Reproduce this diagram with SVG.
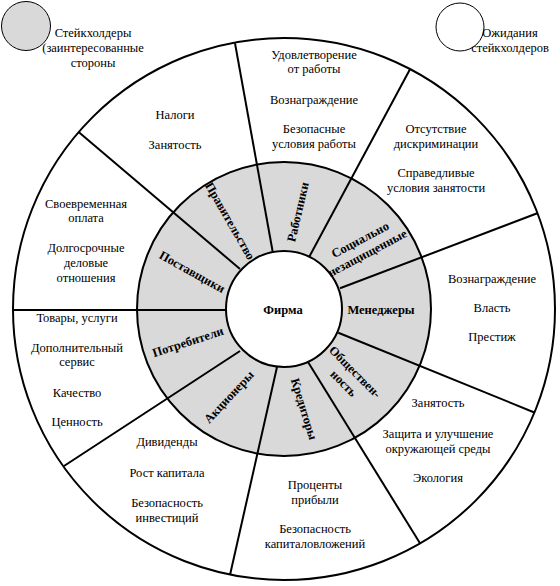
<svg xmlns="http://www.w3.org/2000/svg" width="560" height="586" viewBox="0 0 560 586">
<style>
.t{font-family:'Liberation Serif','Times New Roman','DejaVu Serif',serif;font-size:12.5px;fill:#000;text-anchor:middle}
.b{font-family:'Liberation Serif','Times New Roman','DejaVu Serif',serif;font-size:12.5px;font-weight:bold;fill:#000;text-anchor:middle}
.ln{stroke:#000;stroke-width:2;fill:none}
.c{stroke:#000;stroke-width:2}
</style>
<rect width="560" height="586" fill="#fff"/>
<g id="legend">
<circle cx="26" cy="26" r="24.5" fill="#d9d9d9" stroke="#000" stroke-width="1"/>
<text class="t" x="93" y="37">Стейкхолдеры</text>
<text class="t" x="93" y="52">(заинтересованные</text>
<text class="t" x="93" y="67">стороны</text>
<circle cx="460" cy="27" r="24" fill="#fff" stroke="#000" stroke-width="1"/>
<text class="t" x="510" y="37">Ожидания</text>
<text class="t" x="510" y="52">стейкхолдеров</text>
</g>
<g id="rings">
<circle class="c" cx="284" cy="309" r="271" fill="#fff"/>
<circle cx="284" cy="309" r="147" fill="#d9d9d9"/>
</g>
<g id="connectors">
<line class="ln" x1="235" y1="43.3" x2="272.7" y2="251.7"/>
<line class="ln" x1="410" y1="69.3" x2="309.3" y2="256.7"/>
<line class="ln" x1="537.3" y1="213.3" x2="340" y2="288.3"/>
<line class="ln" x1="535" y1="412.7" x2="338.3" y2="332.7"/>
<line class="ln" x1="420" y1="543.3" x2="308" y2="362"/>
<line class="ln" x1="230" y1="575" x2="277" y2="367"/>
<line class="ln" x1="64" y1="466" x2="240" y2="351"/>
<line class="ln" x1="13" y1="310" x2="226" y2="310"/>
<line class="ln" x1="78.3" y1="131.7" x2="240" y2="269"/>
</g>
<g id="ringlines">
<circle class="c" cx="284" cy="309" r="147" fill="none"/>
<circle class="c" cx="284" cy="309" r="58" fill="#fff"/>
</g>
<g id="firm"><text class="b" x="283" y="314">Фирма</text></g>
<g id="government">
<text class="b" transform="translate(230,221) rotate(60)" y="4">Правительство</text>
<text class="t" x="175" y="119">Налоги</text>
<text class="t" x="175" y="149">Занятость</text>
</g>
<g id="employees">
<text class="b" transform="translate(298,212) rotate(-77)" y="4">Работники</text>
<text class="t" x="314" y="59">Удовлетворение</text>
<text class="t" x="314" y="73">от работы</text>
<text class="t" x="314" y="104">Вознаграждение</text>
<text class="t" x="314" y="133">Безопасные</text>
<text class="t" x="314" y="148">условия работы</text>
</g>
<g id="vulnerable">
<g transform="translate(364,247) rotate(-28)">
<text class="b" y="-4">Социально</text>
<text class="b" y="11">незащищенные</text>
</g>
<text class="t" x="436" y="133">Отсутствие</text>
<text class="t" x="436" y="148">дискриминации</text>
<text class="t" x="436" y="177">Справедливые</text>
<text class="t" x="436" y="192">условия занятости</text>
</g>
<g id="managers">
<text class="b" x="381" y="314">Менеджеры</text>
<text class="t" x="492" y="283">Вознаграждение</text>
<text class="t" x="492" y="312">Власть</text>
<text class="t" x="492" y="341">Престиж</text>
</g>
<g id="society">
<g transform="translate(350,377) rotate(45)">
<text class="b" y="-3">Обществен-</text>
<text class="b" y="13">ность</text>
</g>
<text class="t" x="438" y="407">Занятость</text>
<text class="t" x="438" y="438">Защита и улучшение</text>
<text class="t" x="438" y="453">окружающей среды</text>
<text class="t" x="438" y="482">Экология</text>
</g>
<g id="creditors">
<text class="b" transform="translate(304,409) rotate(73)" y="4">Кредиторы</text>
<text class="t" x="315" y="489">Проценты</text>
<text class="t" x="315" y="504">прибыли</text>
<text class="t" x="315" y="533">Безопасность</text>
<text class="t" x="315" y="548">капиталовложений</text>
</g>
<g id="shareholders">
<text class="b" transform="translate(229,397) rotate(-47)" y="4">Акционеры</text>
<text class="t" x="167" y="446">Дивиденды</text>
<text class="t" x="167" y="477">Рост капитала</text>
<text class="t" x="167" y="507">Безопасность</text>
<text class="t" x="167" y="522">инвестиций</text>
</g>
<g id="consumers">
<text class="b" transform="translate(188,342) rotate(-18)" y="4">Потребители</text>
<text class="t" x="77" y="322">Товары, услуги</text>
<text class="t" x="77" y="352">Дополнительный</text>
<text class="t" x="77" y="366">сервис</text>
<text class="t" x="77" y="397">Качество</text>
<text class="t" x="77" y="426">Ценность</text>
</g>
<g id="suppliers">
<text class="b" transform="translate(192,272) rotate(29)" y="4">Поставщики</text>
<text class="t" x="86" y="208">Своевременная</text>
<text class="t" x="86" y="222">оплата</text>
<text class="t" x="86" y="252">Долгосрочные</text>
<text class="t" x="86" y="267">деловые</text>
<text class="t" x="86" y="282">отношения</text>
</g>
</svg>
